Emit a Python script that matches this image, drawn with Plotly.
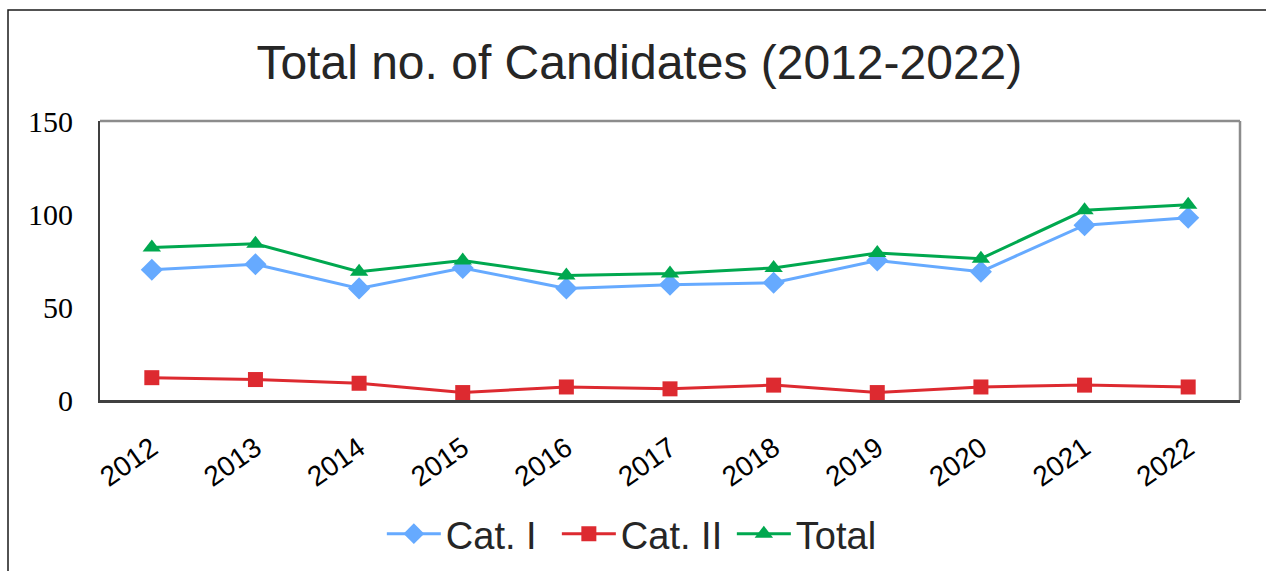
import plotly.graph_objects as go

years = ["2012", "2013", "2014", "2015", "2016", "2017", "2018", "2019", "2020", "2021", "2022"]
cat1 = [70, 73, 60, 71, 60, 62, 63, 75, 69, 94, 98]
cat2 = [12, 11, 9, 4, 7, 6, 8, 4, 7, 8, 7]
total = [82, 84, 69, 75, 67, 68, 71, 79, 76, 102, 105]
y_ticks = [0, 50, 100, 150]

W, H = 1266, 571

fig = go.Figure()
fig.add_trace(go.Scatter(x=years, y=cat1, name="Cat. I", mode="lines+markers",
                         line=dict(color="#66AAFF", width=3),
                         marker=dict(symbol="diamond", size=17, color="#66AAFF")))
fig.add_trace(go.Scatter(x=years, y=cat2, name="Cat. II", mode="lines+markers",
                         line=dict(color="#DD2A30", width=3),
                         marker=dict(symbol="square", size=15, color="#DD2A30")))
fig.add_trace(go.Scatter(x=years, y=total, name="Total", mode="lines+markers",
                         line=dict(color="#00A84F", width=3),
                         marker=dict(symbol="triangle-up", size=16, color="#00A84F")))

fig.update_layout(
    width=W, height=H,
    margin=dict(l=100, r=26, t=121, b=171, autoexpand=False),
    paper_bgcolor="white", plot_bgcolor="white",
    title=dict(text="Total no. of Candidates (2012-2022)", x=0.505, xanchor="center",
               y=1 - 62 / H, yanchor="middle", yref="container",
               font=dict(family="Liberation Sans, Arial", size=48, color="#262626")),
    showlegend=True,
    legend=dict(orientation="h", x=0.4775, xanchor="center",
                y=1 - 534 / H, yanchor="middle", yref="container",
                font=dict(family="Liberation Sans, Arial", size=38, color="#262626"),
                itemwidth=54, tracegroupgap=0, entrywidth=106, entrywidthmode="pixels"),
    xaxis=dict(type="category", range=[-0.5, 10.5], showgrid=False, zeroline=False,
               showline=True, linecolor="#404040", linewidth=2.5, ticks="",
               tickangle=-35, ticklabelstandoff=18, automargin=False,
               tickfont=dict(family="Liberation Sans, Arial", size=28, color="black")),
    yaxis=dict(range=[0, 150], tickvals=y_ticks, showgrid=False, zeroline=False,
               showline=True, linecolor="#404040", linewidth=2, ticks="",
               ticklabelstandoff=19, automargin=False,
               tickfont=dict(family="Liberation Serif, Times New Roman", size=30, color="black")),
)

# plot area top and right border (gray)
fig.add_shape(type="line", xref="paper", yref="paper", x0=0, x1=1, y0=1, y1=1,
              line=dict(color="#8C8C8C", width=2.5))
fig.add_shape(type="line", xref="paper", yref="paper", x0=1, x1=1, y0=0, y1=1,
              line=dict(color="#8C8C8C", width=2.5))
# outer chart border
fig.add_shape(type="rect", xref="paper", yref="paper", x0=-0.0807, x1=1.2, y0=-0.8, y1=1.398,
              line=dict(color="#1a1a1a", width=1.5), layer="below")

fig.write_html("out.html", config={"displayModeBar": False},
               post_script="document.body.style.margin='0';document.body.style.overflow='hidden';")
